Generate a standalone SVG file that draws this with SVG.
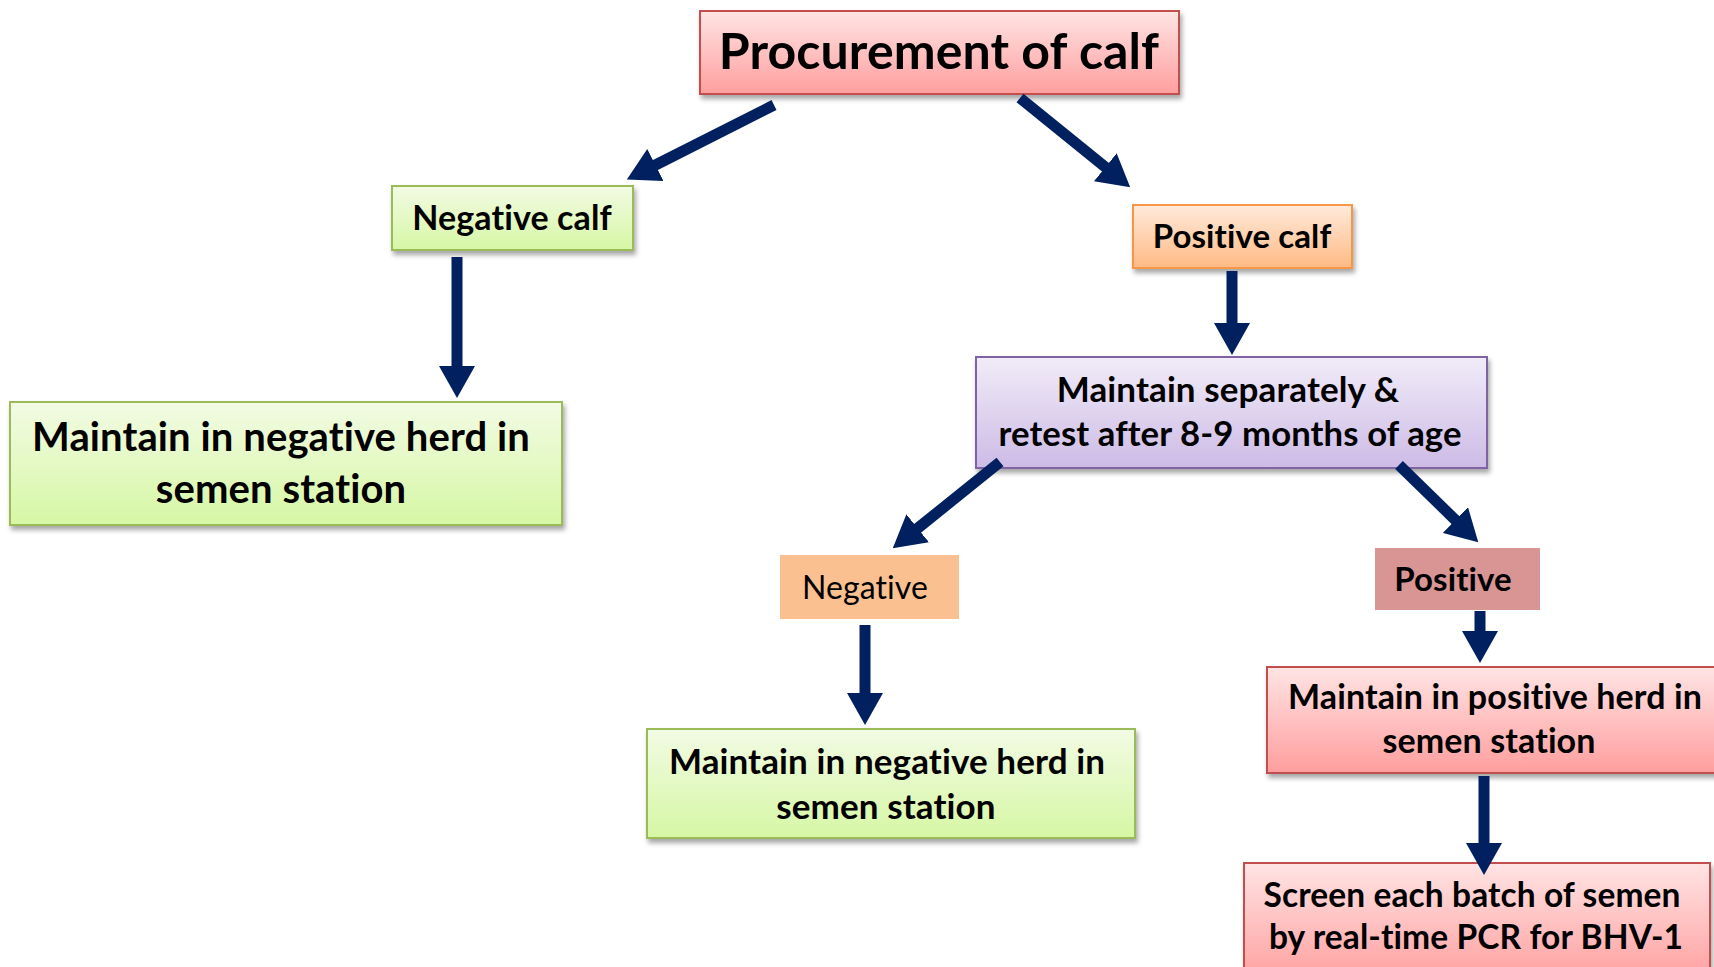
<svg xmlns="http://www.w3.org/2000/svg" width="1714" height="967" viewBox="0 0 1714 967">
<style>
text{font-family:Lato,"Liberation Sans",sans-serif;font-weight:bold;fill:#000;text-anchor:middle;font-variant-ligatures:none;letter-spacing:0.1px}
.conn line{stroke:#002060;stroke-width:11;stroke-linecap:butt;fill:none}
.box{stroke-width:2}
</style>
<defs>
<filter id="sh" x="-10%" y="-20%" width="120%" height="150%"><feDropShadow dx="2" dy="4" stdDeviation="2.5" flood-color="#000" flood-opacity="0.35"/></filter>
<linearGradient id="gRed" x1="0" y1="0" x2="0" y2="1"><stop offset="0" stop-color="#FFE4E4"/><stop offset="1" stop-color="#FF9E9E"/></linearGradient>
<linearGradient id="gGreen" x1="0" y1="0" x2="0" y2="1"><stop offset="0" stop-color="#F2FBE4"/><stop offset="1" stop-color="#D6F7A4"/></linearGradient>
<linearGradient id="gOrange" x1="0" y1="0" x2="0" y2="1"><stop offset="0" stop-color="#FFEADB"/><stop offset="1" stop-color="#FFBA84"/></linearGradient>
<linearGradient id="gPurple" x1="0" y1="0" x2="0" y2="1"><stop offset="0" stop-color="#F1ECF8"/><stop offset="1" stop-color="#CDBBE6"/></linearGradient>
<marker id="ah" viewBox="0 0 32 36" markerWidth="32" markerHeight="36" refX="1" refY="18" orient="auto" markerUnits="userSpaceOnUse"><path d="M0,0 L32,18 L0,36 Z" fill="#002060"/></marker>
</defs>

<g id="procurement"><rect class="box" x="700" y="11" width="479" height="83" fill="url(#gRed)" stroke="#C0504D" filter="url(#sh)"/><text x="939" y="69" font-size="50">Procurement of calf</text></g>

<g id="negative-calf"><rect class="box" x="392" y="186" width="241" height="64" fill="url(#gGreen)" stroke="#9BBB59" filter="url(#sh)"/><text x="512" y="230" font-size="34">Negative calf</text></g>

<g id="positive-calf"><rect class="box" x="1133" y="205" width="219" height="63" fill="url(#gOrange)" stroke="#F79646" filter="url(#sh)"/><text x="1242" y="248" font-size="33">Positive calf</text></g>

<g id="maintain-retest"><rect class="box" x="976" y="357" width="511" height="111" fill="url(#gPurple)" stroke="#8064A2" filter="url(#sh)"/><text x="1228" y="402" font-size="35">Maintain separately &amp;</text><text x="1230" y="446" font-size="34.7">retest after 8-9 months of age</text></g>

<g id="maintain-negative-1"><rect class="box" x="10" y="402" width="552" height="123" fill="url(#gGreen)" stroke="#9BBB59" filter="url(#sh)"/><text x="281" y="451" font-size="40">Maintain in negative herd in</text><text x="281" y="503" font-size="40">semen station</text></g>

<g id="negative"><rect x="780" y="555" width="179" height="64" fill="#FAC090"/><text x="865" y="599" font-size="32" style="font-weight:normal">Negative</text></g>

<g id="positive"><rect x="1375" y="548" width="165" height="62" fill="#D99594"/><text x="1453" y="591" font-size="33">Positive</text></g>

<g id="maintain-negative-2"><rect class="box" x="647" y="729" width="488" height="109" fill="url(#gGreen)" stroke="#9BBB59" filter="url(#sh)"/><text x="887" y="774" font-size="35">Maintain in negative herd in</text><text x="886" y="819" font-size="35">semen station</text></g>

<g id="maintain-positive"><rect class="box" x="1267" y="667" width="450" height="106" fill="url(#gRed)" stroke="#C0504D" filter="url(#sh)"/><text x="1495" y="709" font-size="34">Maintain in positive herd in</text><text x="1489" y="753" font-size="34">semen station</text></g>

<g id="screen"><rect class="box" x="1244" y="863" width="466" height="120" fill="url(#gRed)" stroke="#C0504D" filter="url(#sh)"/><text x="1472" y="907" font-size="33.5">Screen each batch of semen</text><text x="1476" y="949" font-size="33.5">by real-time PCR for BHV-1</text></g>

<g id="connectors" class="conn">
<line x1="774" y1="105" x2="654.5" y2="165.5" marker-end="url(#ah)"/>
<line x1="1020" y1="98" x2="1106.1" y2="167.8" marker-end="url(#ah)"/>
<line x1="457" y1="257" x2="457" y2="367" marker-end="url(#ah)"/>
<line x1="1232" y1="271" x2="1232" y2="324" marker-end="url(#ah)"/>
<line x1="1000" y1="462" x2="916.9" y2="528.9" marker-end="url(#ah)"/>
<line x1="1399" y1="465" x2="1456.1" y2="520.7" marker-end="url(#ah)"/>
<line x1="865" y1="625" x2="865" y2="694" marker-end="url(#ah)"/>
<line x1="1480" y1="611" x2="1480" y2="632" marker-end="url(#ah)"/>
<line x1="1484" y1="776" x2="1484" y2="844" marker-end="url(#ah)"/>
</g>
</svg>
